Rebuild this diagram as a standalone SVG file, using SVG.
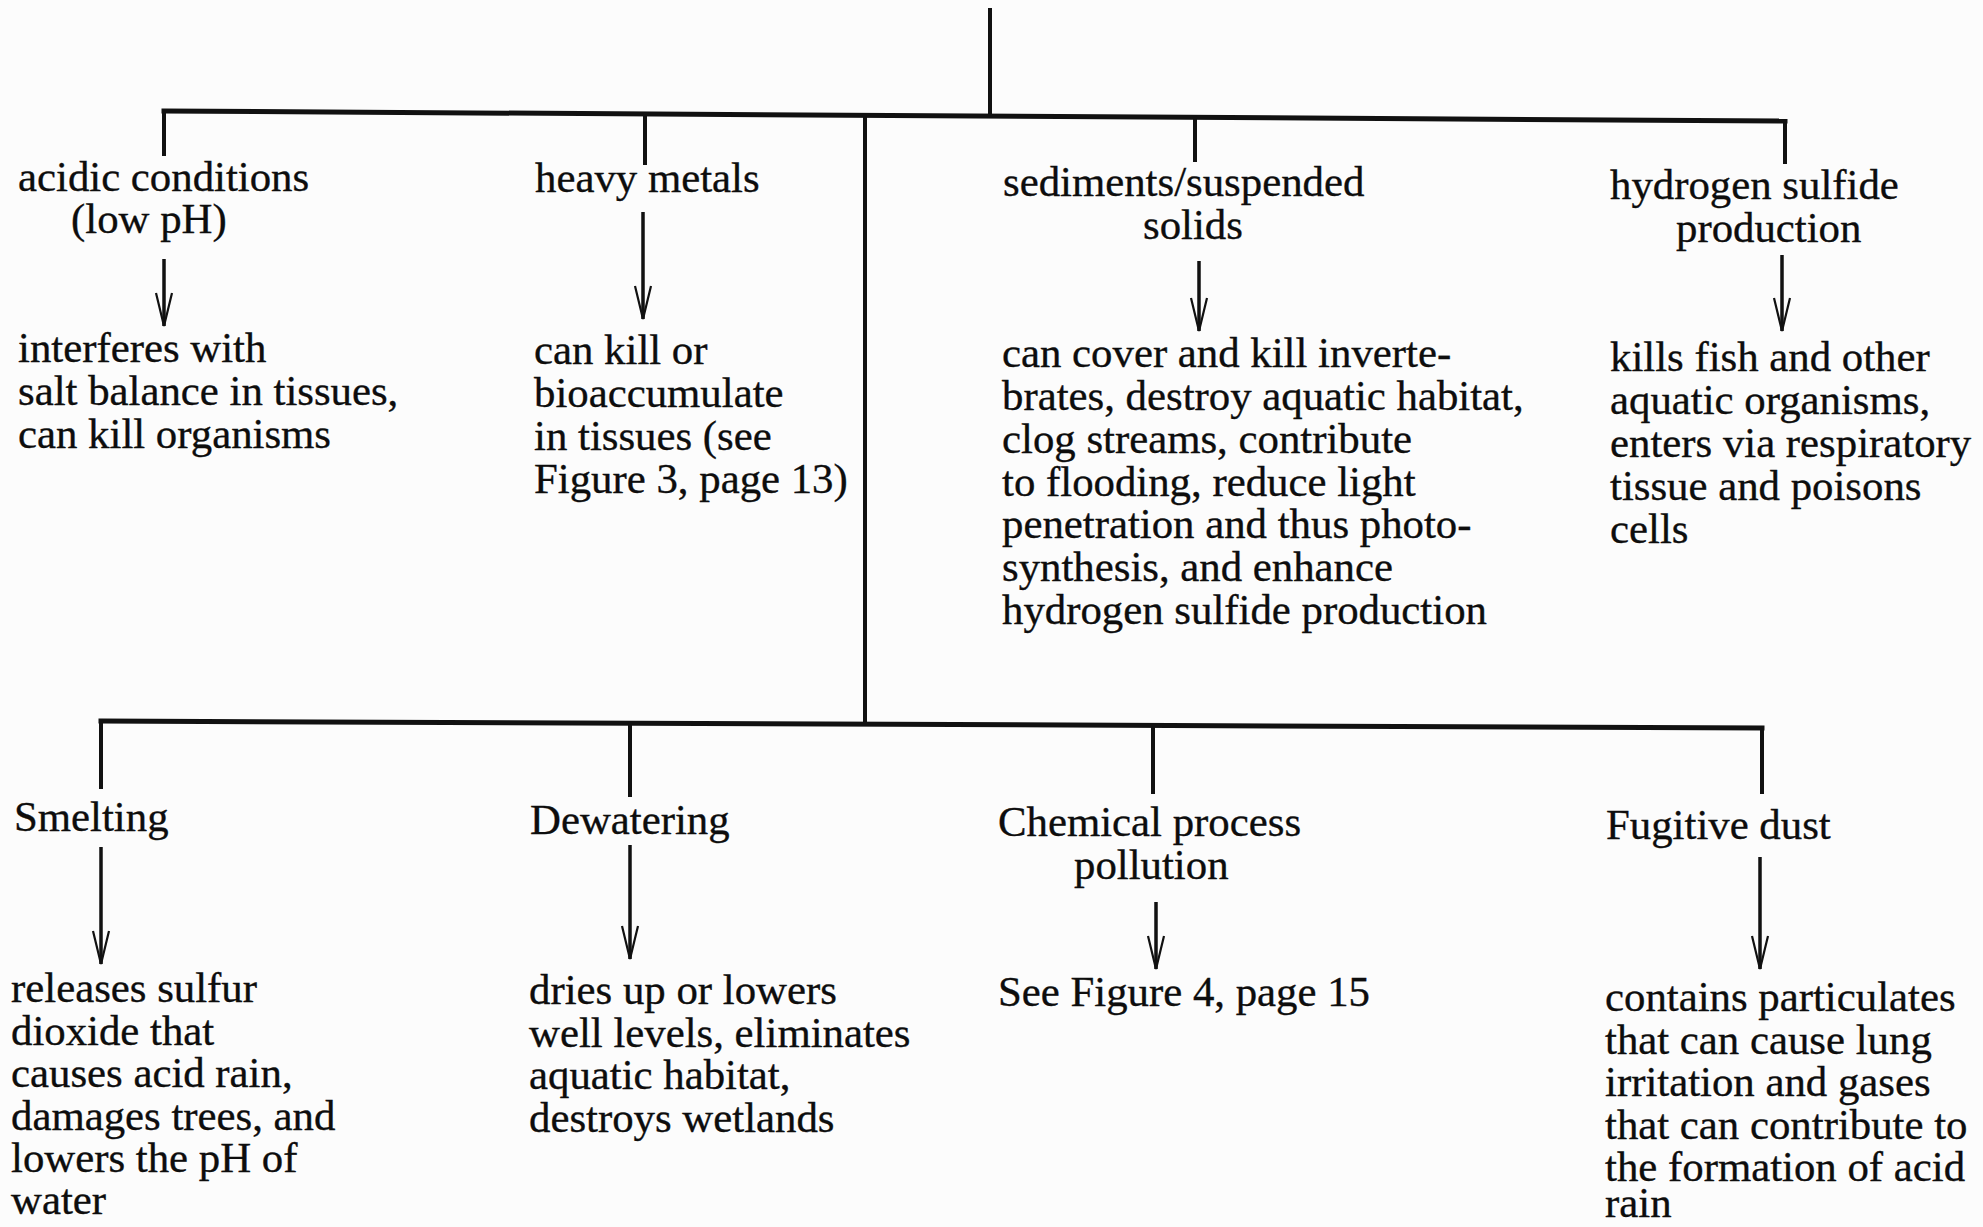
<svg xmlns="http://www.w3.org/2000/svg" width="1983" height="1227" viewBox="0 0 1983 1227">
<style>
  text { font-family: "Liberation Serif", "Times New Roman", serif; font-size: 42.8px; fill: #0d0d0d; stroke: #0d0d0d; stroke-width: 0.35px; }
  .bar { stroke: #111; stroke-width: 5; fill: none; stroke-linecap: square; }
  .drop { stroke: #111; stroke-width: 4; fill: none; }
  .arrow { stroke: #111; stroke-width: 3.5; fill: none; marker-end: url(#ah); }
</style>
<defs>
  <marker id="ah" markerUnits="userSpaceOnUse" markerWidth="40" markerHeight="24" viewBox="-34 -12 40 24" refX="0" refY="0" orient="auto">
    <path d="M-33,-8 L0,0 L-33,8" fill="none" stroke="#111" stroke-width="2.2" stroke-linejoin="miter"/>
  </marker>
</defs>
<rect x="0" y="0" width="1983" height="1227" fill="#fcfcfc"/>

<g id="connectors">
  <line class="drop" x1="990" y1="8" x2="990" y2="116"/>
  <line class="bar" x1="164" y1="111" x2="1785" y2="121"/>
  <line class="drop" x1="164" y1="111" x2="164" y2="156"/>
  <line class="drop" x1="645" y1="114" x2="645" y2="165"/>
  <line class="drop" x1="865" y1="115" x2="865" y2="722"/>
  <line class="drop" x1="1195" y1="118" x2="1195" y2="162"/>
  <line class="drop" x1="1785" y1="121" x2="1785" y2="164"/>
  <line class="arrow" x1="164" y1="259" x2="164" y2="326"/>
  <line class="arrow" x1="643" y1="212" x2="643" y2="319"/>
  <line class="arrow" x1="1199" y1="261" x2="1199" y2="331"/>
  <line class="arrow" x1="1782" y1="255" x2="1782" y2="331"/>

  <line class="bar" x1="101" y1="721" x2="1762" y2="728"/>
  <line class="drop" x1="101" y1="721" x2="101" y2="789"/>
  <line class="drop" x1="630" y1="723" x2="630" y2="797"/>
  <line class="drop" x1="1153" y1="725" x2="1153" y2="794"/>
  <line class="drop" x1="1762" y1="728" x2="1762" y2="794"/>
  <line class="arrow" x1="101" y1="847" x2="101" y2="964"/>
  <line class="arrow" x1="630" y1="845" x2="630" y2="959"/>
  <line class="arrow" x1="1156" y1="902" x2="1156" y2="969"/>
  <line class="arrow" x1="1760" y1="857" x2="1760" y2="969"/>
</g>

<g id="acidic">
  <text x="18" y="191">acidic conditions</text>
  <text x="71" y="233">(low pH)</text>
</g>
<g id="acidic-effect">
  <text x="18" y="362">interferes with</text>
  <text x="18" y="405">salt balance in tissues,</text>
  <text x="18" y="448">can kill organisms</text>
</g>

<g id="heavy-metals">
  <text x="535" y="192">heavy metals</text>
</g>
<g id="heavy-metals-effect">
  <text x="534" y="364">can kill or</text>
  <text x="534" y="407">bioaccumulate</text>
  <text x="534" y="450">in tissues (see</text>
  <text x="534" y="493">Figure 3, page 13)</text>
</g>

<g id="sediments">
  <text x="1003" y="196">sediments/suspended</text>
  <text x="1143" y="239">solids</text>
</g>
<g id="sediments-effect">
  <text x="1002" y="367">can cover and kill inverte-</text>
  <text x="1002" y="410">brates, destroy aquatic habitat,</text>
  <text x="1002" y="453">clog streams, contribute</text>
  <text x="1002" y="496">to flooding, reduce light</text>
  <text x="1002" y="538">penetration and thus photo-</text>
  <text x="1002" y="581">synthesis, and enhance</text>
  <text x="1002" y="624">hydrogen sulfide production</text>
</g>

<g id="hydrogen-sulfide">
  <text x="1610" y="199">hydrogen sulfide</text>
  <text x="1676" y="242">production</text>
</g>
<g id="hydrogen-sulfide-effect">
  <text x="1610" y="371">kills fish and other</text>
  <text x="1610" y="414">aquatic organisms,</text>
  <text x="1610" y="457">enters via respiratory</text>
  <text x="1610" y="500">tissue and poisons</text>
  <text x="1610" y="543">cells</text>
</g>

<g id="smelting">
  <text x="14" y="831">Smelting</text>
</g>
<g id="smelting-effect">
  <text x="11" y="1002">releases sulfur</text>
  <text x="11" y="1045">dioxide that</text>
  <text x="11" y="1087">causes acid rain,</text>
  <text x="11" y="1130">damages trees, and</text>
  <text x="11" y="1172">lowers the pH of</text>
  <text x="11" y="1214">water</text>
</g>

<g id="dewatering">
  <text x="530" y="834">Dewatering</text>
</g>
<g id="dewatering-effect">
  <text x="529" y="1004">dries up or lowers</text>
  <text x="529" y="1047">well levels, eliminates</text>
  <text x="529" y="1089">aquatic habitat,</text>
  <text x="529" y="1132">destroys wetlands</text>
</g>

<g id="chemical">
  <text x="998" y="836">Chemical process</text>
  <text x="1074" y="879">pollution</text>
</g>
<g id="chemical-effect">
  <text x="998" y="1006">See Figure 4, page 15</text>
</g>

<g id="fugitive-dust">
  <text x="1606" y="839">Fugitive dust</text>
</g>
<g id="fugitive-dust-effect">
  <text x="1605" y="1011">contains particulates</text>
  <text x="1605" y="1054">that can cause lung</text>
  <text x="1605" y="1096">irritation and gases</text>
  <text x="1605" y="1139">that can contribute to</text>
  <text x="1605" y="1181">the formation of acid</text>
  <text x="1605" y="1217">rain</text>
</g>
</svg>
